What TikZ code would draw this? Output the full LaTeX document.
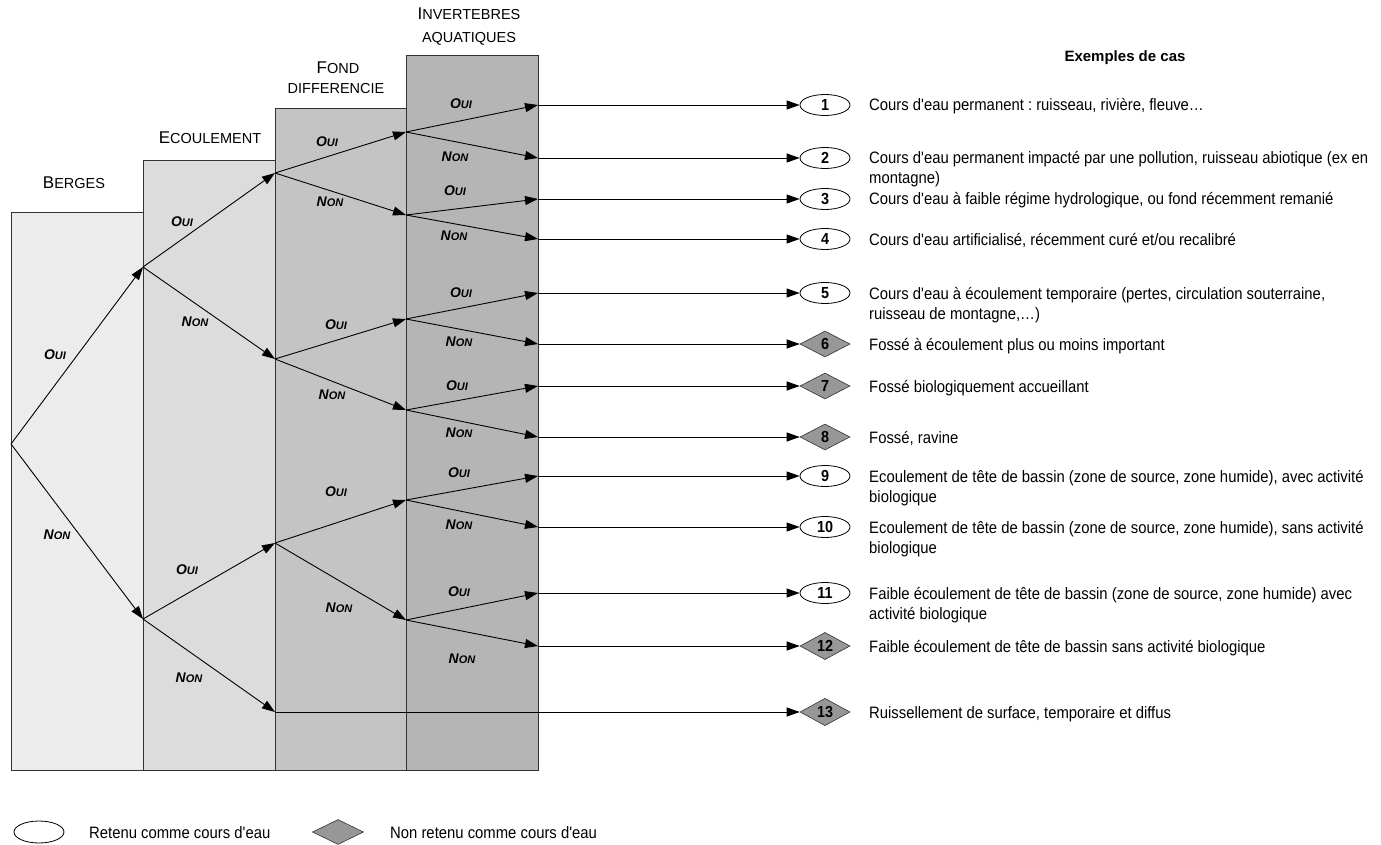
\documentclass[tikz,border=0pt]{standalone}
\usepackage{fontspec}
\setmainfont{Liberation Sans}
\newfontfamily\narrow[FakeStretch=0.9]{Liberation Sans}
\usetikzlibrary{arrows.meta,shapes.geometric}
\definecolor{pA}{HTML}{ECECEC}
\definecolor{pB}{HTML}{DCDCDC}
\definecolor{pC}{HTML}{C4C4C4}
\definecolor{pD}{HTML}{B5B5B5}
\definecolor{dia}{HTML}{979797}
\newcommand\hsc[2]{{\fontsize{17}{17}\selectfont #1}{\fontsize{14.5}{14.5}\selectfont #2}}
\newcommand\hsm[1]{{\fontsize{14.5}{14.5}\selectfont #1}}
\newcommand\oui{{\bfseries\itshape{\fontsize{14}{14}\selectfont O}{\fontsize{11}{11}\selectfont UI}}}
\newcommand\non{{\bfseries\itshape{\fontsize{14}{14}\selectfont N}{\fontsize{11}{11}\selectfont ON}}}
\begin{document}
\frenchspacing
\begin{tikzpicture}[x=1pt,y=-1pt,
  panel/.style={draw=black!80, line width=0.9pt},
  edge/.style={line width=0.9pt, -{Triangle[length=13pt,width=9pt]}},
  lbl/.style={inner sep=0pt},
  head/.style={inner sep=0pt, anchor=base},
  txt/.style={inner sep=0pt, anchor=base west, font=\narrow\fontsize{16.5}{19}\selectfont},
  keep/.style={ellipse, draw, fill=white, line width=0.8pt, minimum width=50pt, minimum height=21pt, inner sep=0pt, font=\narrow\fontsize{16}{16}\selectfont\bfseries},
  drop/.style={diamond, draw=black!80, fill=dia, line width=0.6pt, minimum width=50pt, minimum height=26pt, inner sep=0pt, font=\narrow\fontsize{16}{16}\selectfont\bfseries}]
\useasboundingbox (0,0) rectangle (1381,845);
% panels
\path[panel, fill=pA] (11,212) rectangle (143,770);
\path[panel, fill=pB] (143,160) rectangle (275,770);
\path[panel, fill=pC] (275,108) rectangle (406,770);
\path[panel, fill=pD] (406,55) rectangle (538,770);
% headers
\node[head] (hB) at (74,189) {\hsc{B}{ERGES}};
\node[head] (hE) at (210,144) {\hsc{E}{COULEMENT}};
\node[head] (hF1) at (338,74) {\hsc{F}{OND}};
\node[head] (hF2) at (336,94) {\hsm{DIFFERENCIE}};
\node[head] (hI1) at (469,20) {\hsc{I}{NVERTEBRES}};
\node[head] (hI2) at (469,43) {\hsm{AQUATIQUES}};
\node[head, font=\fontsize{15}{15}\selectfont\bfseries] (hX) at (1125,62) {Exemples de cas};
% junctions
\coordinate (r) at (11,444);
\coordinate (b1) at (143,267);
\coordinate (b2) at (143,619);
\coordinate (e1) at (275,173);
\coordinate (e2) at (275,359);
\coordinate (e3) at (275,543);
\coordinate (e4) at (275,712);
\coordinate (f1) at (406,132);
\coordinate (f2) at (406,215);
\coordinate (f3) at (406,319);
\coordinate (f4) at (406,410);
\coordinate (f5) at (406,500);
\coordinate (f6) at (406,620);
\foreach \i/\y in {1/105,2/158,3/199,4/239,5/293,6/344,7/386,8/437,9/476,10/527,11/593,12/646}
  \coordinate (o\i) at (538,\y);
% end nodes
\node[keep] (n1) at (825,105) {1};
\node[keep] (n2) at (825,158) {2};
\node[keep] (n3) at (825,199) {3};
\node[keep] (n4) at (825,239) {4};
\node[keep] (n5) at (825,293) {5};
\node[drop] (n6) at (825,344) {6};
\node[drop] (n7) at (825,386) {7};
\node[drop] (n8) at (825,437) {8};
\node[keep] (n9) at (825,476) {9};
\node[keep] (n10) at (825,527) {10};
\node[keep] (n11) at (825,593) {11};
\node[drop] (n12) at (825,646) {12};
\node[drop] (n13) at (825,712) {13};
% tree edges
\draw[edge] (r) -- (b1);
\draw[edge] (r) -- (b2);
\draw[edge] (b1) -- (e1);
\draw[edge] (b1) -- (e2);
\draw[edge] (b2) -- (e3);
\draw[edge] (b2) -- (e4);
\draw[edge] (e1) -- (f1);
\draw[edge] (e1) -- (f2);
\draw[edge] (e2) -- (f3);
\draw[edge] (e2) -- (f4);
\draw[edge] (e3) -- (f5);
\draw[edge] (e3) -- (f6);
\draw[edge] (f1) -- (o1);
\draw[edge] (f1) -- (o2);
\draw[edge] (f2) -- (o3);
\draw[edge] (f2) -- (o4);
\draw[edge] (f3) -- (o5);
\draw[edge] (f3) -- (o6);
\draw[edge] (f4) -- (o7);
\draw[edge] (f4) -- (o8);
\draw[edge] (f5) -- (o9);
\draw[edge] (f5) -- (o10);
\draw[edge] (f6) -- (o11);
\draw[edge] (f6) -- (o12);
\foreach \i in {1,...,12} \draw[edge] (o\i) -- (n\i);
\draw[edge] (e4) -- (n13);
% edge labels
\node[lbl] (l1) at (55,355) {\oui};
\node[lbl] (l2) at (57,535) {\non};
\node[lbl] (l3) at (182,222) {\oui};
\node[lbl] (l4) at (195,322) {\non};
\node[lbl] (l5) at (187,570) {\oui};
\node[lbl] (l6) at (189,678) {\non};
\node[lbl] (l7) at (327,142) {\oui};
\node[lbl] (l8) at (330,202) {\non};
\node[lbl] (l9) at (336,325) {\oui};
\node[lbl] (l10) at (332,395) {\non};
\node[lbl] (l11) at (336,492) {\oui};
\node[lbl] (l12) at (339,608) {\non};
\node[lbl] (m1) at (461,104) {\oui};
\node[lbl] (m2) at (455,157) {\non};
\node[lbl] (m3) at (455,191) {\oui};
\node[lbl] (m4) at (454,236) {\non};
\node[lbl] (m5) at (461,293) {\oui};
\node[lbl] (m6) at (459,342) {\non};
\node[lbl] (m7) at (457,386) {\oui};
\node[lbl] (m8) at (459,433) {\non};
\node[lbl] (m9) at (459,473) {\oui};
\node[lbl] (m10) at (459,525) {\non};
\node[lbl] (m11) at (459,592) {\oui};
\node[lbl] (m12) at (462,659) {\non};
% example texts
\node[txt] (t1) at (869,111) {Cours d'eau permanent : ruisseau, rivière, fleuve…};
\node[txt] (t2a) at (869,164) {Cours d'eau permanent impacté par une pollution, ruisseau abiotique (ex en};
\node[txt] (t2b) at (869,184) {montagne)};
\node[txt] (t3) at (869,205) {Cours d'eau à faible régime hydrologique, ou fond récemment remanié};
\node[txt] (t4) at (869,245) {Cours d'eau artificialisé, récemment curé et/ou recalibré};
\node[txt] (t5a) at (869,299) {Cours d'eau à écoulement temporaire (pertes, circulation souterraine,};
\node[txt] (t5b) at (869,319) {ruisseau de montagne,…)};
\node[txt] (t6) at (869,350) {Fossé à écoulement plus ou moins important};
\node[txt] (t7) at (869,392) {Fossé biologiquement accueillant};
\node[txt] (t8) at (869,443) {Fossé, ravine};
\node[txt] (t9a) at (869,482) {Ecoulement de tête de bassin (zone de source, zone humide), avec activité};
\node[txt] (t9b) at (869,502) {biologique};
\node[txt] (t10a) at (869,533) {Ecoulement de tête de bassin (zone de source, zone humide), sans activité};
\node[txt] (t10b) at (869,553) {biologique};
\node[txt] (t11a) at (869,599) {Faible écoulement de tête de bassin (zone de source, zone humide) avec};
\node[txt] (t11b) at (869,619) {activité biologique};
\node[txt] (t12) at (869,652) {Faible écoulement de tête de bassin sans activité biologique};
\node[txt] (t13) at (869,718) {Ruissellement de surface, temporaire et diffus};
% legend
\node[keep, minimum height=22pt] (k1) at (39,832) {};
\node[txt] (k1t) at (89,838) {Retenu comme cours d'eau};
\node[drop, minimum width=51pt, minimum height=25pt] (k2) at (338,832) {};
\node[txt] (k2t) at (390,838) {Non retenu comme cours d'eau};
\end{tikzpicture}
\end{document}
